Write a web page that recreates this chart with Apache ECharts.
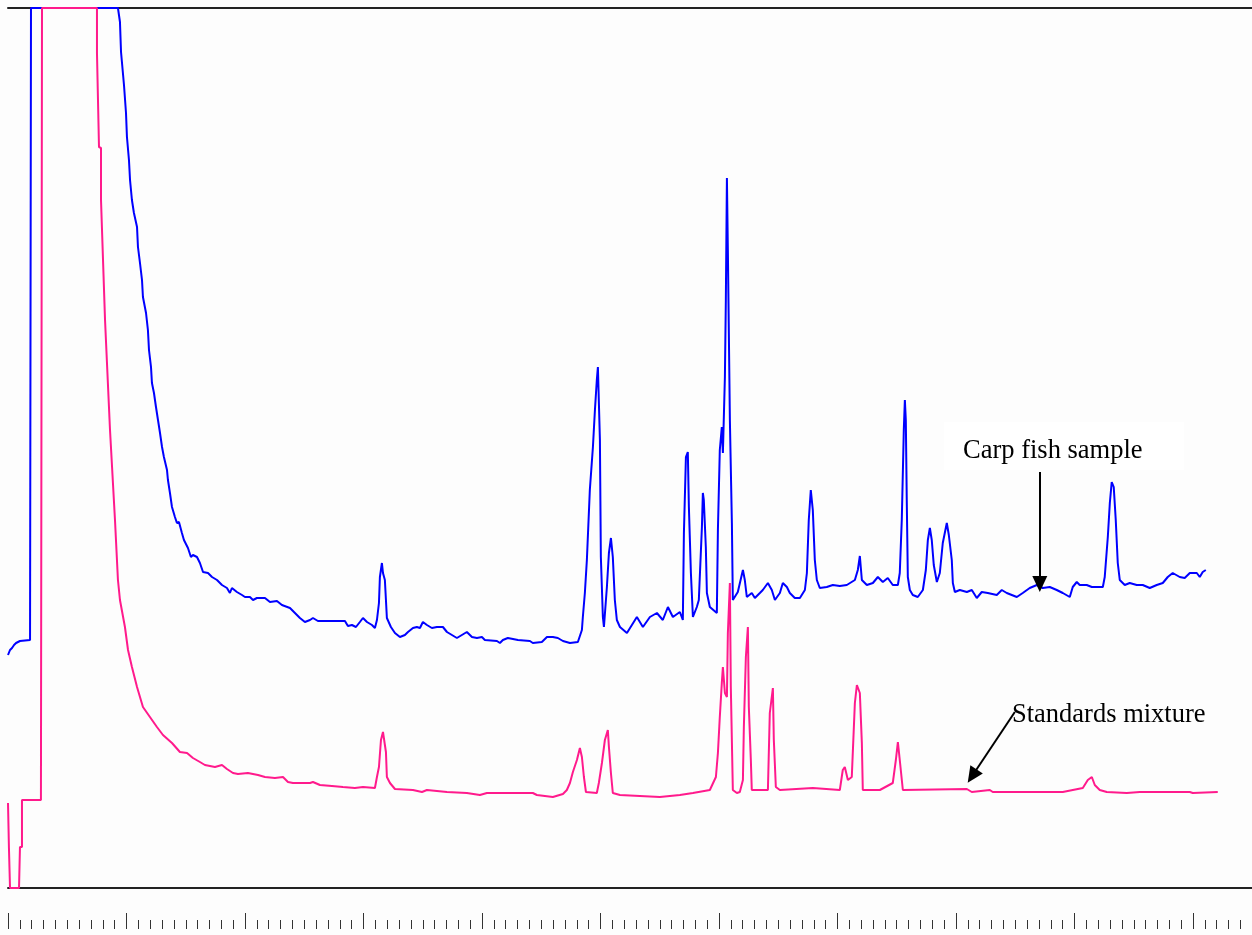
<!DOCTYPE html>
<html>
<head>
<meta charset="utf-8">
<script src="https://cdn.jsdelivr.net/npm/echarts@6/dist/echarts.min.js"></script>
<style>
html, body { margin: 0; padding: 0; background: #fdfdfd; }
#chromatogram { width: 1252px; height: 935px; }
</style>
</head>
<body>
<div id="chromatogram"></div>
<script>
// retention time (min), detector response
var carpSample = [
    [0.000,233],[0.017,238],[0.034,240],[0.051,243],[0.068,245],[0.101,247],[0.186,248],[0.194,880],[0.928,880],[0.945,866],
    [0.954,836],[0.970,835],[0.979,803],[0.996,775],[1.004,751],[1.021,728],[1.030,708],[1.046,688],[1.063,675],[1.089,661],
    [1.097,641],[1.114,625],[1.131,608],[1.139,591],[1.165,575],[1.181,558],[1.190,538],[1.207,521],[1.215,505],[1.232,495],
    [1.249,481],[1.266,468],[1.283,455],[1.300,441],[1.316,431],[1.342,418],[1.350,408],[1.367,395],[1.384,381],[1.409,371],
    [1.426,365],[1.443,366],[1.468,355],[1.485,348],[1.519,340],[1.544,331],[1.561,333],[1.595,331],[1.620,325],[1.646,316],
    [1.688,315],[1.722,311],[1.764,308],[1.806,303],[1.848,300],[1.873,295],[1.890,300],[1.932,296],[1.975,293],[2.000,291],
    [2.042,291],[2.068,288],[2.101,290],[2.169,290],[2.211,286],[2.270,287],[2.312,283],[2.380,280],[2.422,275],[2.464,270],
    [2.506,266],[2.549,268],[2.574,270],[2.616,267],[2.844,267],[2.869,262],[2.903,263],[2.937,261],[2.970,266],[2.996,270],
    [3.030,266],[3.072,263],[3.097,260],[3.114,268],[3.131,285],[3.139,311],[3.156,325],[3.165,315],[3.181,308],[3.190,288],
    [3.198,270],[3.232,261],[3.266,255],[3.308,251],[3.350,253],[3.376,256],[3.418,260],[3.451,261],[3.477,260],[3.502,266],
    [3.536,263],[3.578,260],[3.620,261],[3.671,261],[3.705,256],[3.747,253],[3.789,250],[3.831,253],[3.873,256],[3.916,251],
    [3.958,250],[4.000,251],[4.025,248],[4.127,247],[4.152,245],[4.177,248],[4.219,250],[4.262,249],[4.304,248],[4.405,247],
    [4.430,245],[4.506,246],[4.549,251],[4.599,251],[4.641,250],[4.684,247],[4.743,245],[4.810,246],[4.844,258],[4.852,271],
    [4.869,295],[4.886,328],[4.911,398],[4.937,441],[4.954,478],[4.970,508],[4.979,521],[4.996,448],[5.004,331],[5.021,271],
    [5.030,261],[5.055,301],[5.072,335],[5.089,350],[5.105,331],[5.122,288],[5.139,268],[5.165,261],[5.224,255],[5.308,271],
    [5.359,261],[5.418,271],[5.477,275],[5.527,268],[5.570,281],[5.612,271],[5.671,276],[5.696,268],[5.705,355],[5.722,431],
    [5.738,436],[5.747,381],[5.764,315],[5.781,271],[5.814,281],[5.831,288],[5.857,361],[5.865,395],[5.873,388],[5.890,341],
    [5.899,295],[5.924,281],[5.983,275],[5.992,358],[6.008,438],[6.025,461],[6.034,435],[6.051,511],[6.059,588],[6.068,710],
    [6.076,638],[6.093,468],[6.110,365],[6.118,288],[6.160,296],[6.203,318],[6.219,308],[6.236,291],[6.278,295],[6.304,290],
    [6.346,295],[6.371,298],[6.414,305],[6.447,298],[6.473,288],[6.515,295],[6.540,305],[6.574,301],[6.599,295],[6.641,290],
    [6.684,290],[6.726,298],[6.743,315],[6.759,368],[6.776,398],[6.793,378],[6.810,328],[6.827,308],[6.852,300],[6.911,301],
    [6.962,303],[7.021,302],[7.080,303],[7.148,308],[7.173,318],[7.190,332],[7.207,308],[7.249,303],[7.300,305],[7.342,311],
    [7.384,306],[7.426,310],[7.468,303],[7.511,303],[7.527,315],[7.544,368],[7.561,458],[7.570,488],[7.578,468],[7.586,388],
    [7.595,311],[7.612,298],[7.637,293],[7.679,291],[7.722,298],[7.747,318],[7.764,348],[7.781,360],[7.797,348],[7.814,323],
    [7.840,306],[7.865,315],[7.890,345],[7.924,365],[7.941,353],[7.966,328],[7.975,305],[7.992,296],[8.034,298],[8.093,296],
    [8.135,298],[8.177,290],[8.219,296],[8.270,295],[8.346,293],[8.388,298],[8.430,295],[8.515,291],[8.565,295],[8.624,300],
    [8.684,303],[8.734,300],[8.793,301],[8.852,298],[8.903,295],[8.962,291],[8.987,301],[9.021,306],[9.046,303],[9.105,303],
    [9.148,301],[9.241,301],[9.257,311],[9.283,351],[9.300,385],[9.316,406],[9.333,401],[9.350,368],[9.367,325],[9.384,308],
    [9.426,303],[9.468,305],[9.527,303],[9.578,303],[9.637,300],[9.696,303],[9.747,305],[9.789,311],[9.831,315],[9.890,311],
    [9.932,310],[9.975,315],[10.034,315],[10.059,311],[10.084,316],[10.110,318]
];

var standardsMix = [
    [0.000,85],[0.008,40],[0.017,0],[0.093,0],[0.101,41],[0.118,41],[0.118,88],[0.278,88],[0.287,880],[0.751,880],
    [0.751,835],[0.759,833],[0.768,741],[0.785,740],[0.785,688],[0.819,568],[0.861,458],[0.903,368],[0.928,308],[0.945,288],
    [0.987,261],[1.013,238],[1.046,221],[1.089,201],[1.139,181],[1.198,171],[1.257,161],[1.308,153],[1.384,145],[1.451,136],
    [1.511,135],[1.561,130],[1.620,126],[1.662,123],[1.747,121],[1.806,123],[1.848,119],[1.899,115],[1.941,114],[2.025,115],
    [2.110,113],[2.169,111],[2.253,110],[2.321,111],[2.363,106],[2.405,105],[2.549,105],[2.574,106],[2.633,103],[2.734,102],
    [2.827,101],[2.928,100],[2.996,101],[3.097,100],[3.114,111],[3.131,121],[3.148,148],[3.165,156],[3.181,155],[3.190,136],
    [3.198,111],[3.224,105],[3.266,99],[3.418,98],[3.494,96],[3.536,98],[3.705,96],[3.873,95],[3.983,93],[4.042,95],
    [4.430,95],[4.464,93],[4.599,91],[4.684,94],[4.717,98],[4.743,105],[4.768,116],[4.802,128],[4.827,140],[4.844,131],
    [4.861,111],[4.878,96],[4.970,95],[4.987,105],[5.013,125],[5.038,148],[5.063,158],[5.072,141],[5.089,115],[5.105,95],
    [5.165,93],[5.333,92],[5.502,91],[5.671,93],[5.781,95],[5.924,98],[5.975,111],[5.992,135],[6.008,171],[6.025,205],
    [6.034,221],[6.051,195],[6.068,191],[6.076,255],[6.093,305],[6.101,201],[6.118,98],[6.152,95],[6.177,96],[6.203,108],
    [6.211,161],[6.228,231],[6.245,261],[6.253,181],[6.270,128],[6.278,98],[6.414,98],[6.430,175],[6.456,200],[6.464,148],
    [6.481,101],[6.515,98],[6.793,100],[7.021,98],[7.046,118],[7.063,121],[7.089,108],[7.122,111],[7.148,185],[7.165,203],
    [7.190,195],[7.207,145],[7.215,98],[7.359,98],[7.468,105],[7.494,128],[7.511,146],[7.527,128],[7.553,98],[8.093,99],
    [8.135,96],[8.287,98],[8.312,96],[8.903,96],[9.072,100],[9.114,108],[9.148,111],[9.173,103],[9.215,98],[9.274,96],
    [9.443,95],[9.553,96],[9.975,96],[10.000,95],[10.211,96]
];

// annotation arrows: [start, end] in (min, response)
var carpArrow = [[8.709, 416], [8.709, 304]];
var mixArrow = [[8.498, 176], [8.138, 112]];

var timeRange = [0, 10.5];
var responseRange = [0, 880];
var scaleRange = [0, 11]; // tick ruler under the plot, 1 min major / 0.1 min minor

var myChart = echarts.init(document.getElementById('chromatogram'));

var option = {
    backgroundColor: '#fdfdfd',
    animation: false,
    grid: [
        { left: 8, right: 0, top: 8, bottom: 47, outerBoundsMode: 'none' },
        { left: 8, top: 899, width: 1303.5, height: 30, outerBoundsMode: 'none' }
    ],
    xAxis: [
        {
            type: 'value', gridIndex: 0, position: 'bottom',
            min: timeRange[0], max: timeRange[1],
            axisLine: { show: true, onZero: false, lineStyle: { color: '#222', width: 2 } },
            axisTick: { show: false }, axisLabel: { show: false }, splitLine: { show: false }
        },
        {
            type: 'value', gridIndex: 0, position: 'top',
            min: timeRange[0], max: timeRange[1],
            axisLine: { show: true, onZero: false, lineStyle: { color: '#222', width: 2 } },
            axisTick: { show: false }, axisLabel: { show: false }, splitLine: { show: false }
        },
        {
            type: 'value', gridIndex: 1, position: 'bottom',
            min: scaleRange[0], max: scaleRange[1], interval: 1,
            axisLine: { show: false },
            axisTick: { show: true, inside: true, length: 16, lineStyle: { color: '#333', width: 1 } },
            minorTick: { show: true, splitNumber: 10, length: 9, lineStyle: { color: '#333', width: 1 } },
            axisLabel: { show: false }, splitLine: { show: false }
        }
    ],
    yAxis: [
        { type: 'value', gridIndex: 0, min: responseRange[0], max: responseRange[1], show: false },
        { type: 'value', gridIndex: 1, min: 0, max: 1, show: false }
    ],
    graphic: [
        {
            type: 'rect', left: 944, top: 422, z: 50,
            shape: { width: 240, height: 48 },
            style: { fill: '#ffffff' }
        },
        {
            type: 'text', left: 963, top: 438, z: 51,
            style: { text: 'Carp fish sample', font: '26.5px "Liberation Serif"', fill: '#000' }
        },
        {
            type: 'text', left: 1012, top: 702, z: 51,
            style: { text: 'Standards mixture', font: '26.5px "Liberation Serif"', fill: '#000' }
        }
    ],
    series: [
        {
            name: 'Carp fish sample',
            type: 'line',
            xAxisIndex: 0, yAxisIndex: 0,
            data: carpSample,
            showSymbol: false, symbol: 'none',
            lineStyle: { color: '#0000ff', width: 2 },
            markLine: {
                silent: true, animation: false,
                symbol: ['none', 'triangle'], symbolSize: [15, 16],
                label: { show: false },
                lineStyle: { color: '#000', width: 2, type: 'solid' },
                data: [[{ coord: carpArrow[0] }, { coord: carpArrow[1] }]]
            }
        },
        {
            name: 'Standards mixture',
            type: 'line',
            xAxisIndex: 0, yAxisIndex: 0,
            data: standardsMix,
            showSymbol: false, symbol: 'none',
            lineStyle: { color: '#ff1a8c', width: 2 },
            markLine: {
                silent: true, animation: false,
                symbol: ['none', 'triangle'], symbolSize: [15, 16],
                label: { show: false },
                lineStyle: { color: '#000', width: 2, type: 'solid' },
                data: [[{ coord: mixArrow[0] }, { coord: mixArrow[1] }]]
            }
        }
    ]
};
myChart.setOption(option);
</script>
</body>
</html>
